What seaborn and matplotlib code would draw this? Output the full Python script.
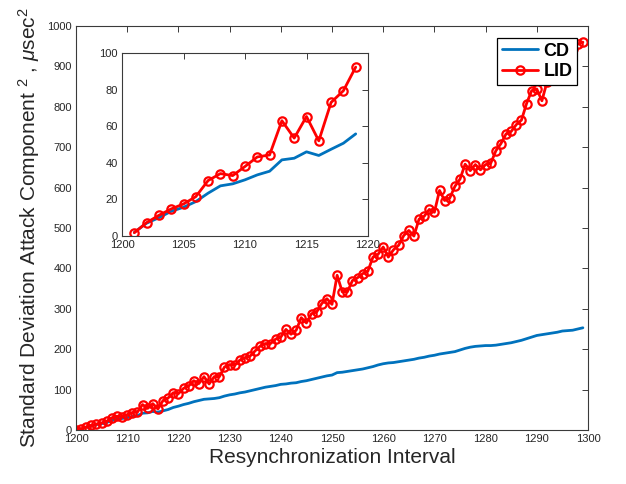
import numpy as np
import pandas as pd
import matplotlib
matplotlib.use("Agg")
import matplotlib.pyplot as plt
import seaborn as sns

# ---------------- data ----------------
interval = list(range(1200, 1300))

cd = [1, 2, 7, 10, 13.5, 15.7, 18.8, 23.4, 27.4, 28.5,
      30.7, 33.4, 35.4, 41.6, 42.5, 46, 44, 47.4, 50.7, 55.8,
      59, 63, 66, 70, 73, 76, 77, 78, 80, 84,
      87, 89, 92, 94, 97, 100, 103, 106, 108, 110,
      113, 114, 116, 117, 120, 122, 125, 128, 131, 134,
      136, 142, 143, 145, 147, 149, 151, 154, 157, 161,
      164, 166, 167, 169, 171, 173, 175, 178, 180, 183,
      185, 188, 190, 192, 194, 198, 202, 205, 207, 208,
      209, 209, 210, 212, 214, 216, 219, 222, 226, 230,
      234, 236, 238, 240, 242, 245, 246, 247, 250, 253]

lid = [1, 1.8, 7.3, 11.3, 14.8, 17.5, 21.5, 30.3, 34.1, 33.0,
       38.0, 43.2, 44.3, 63.0, 53.5, 65.3, 52.0, 73.0, 79.4, 92.3,
       90, 103, 109, 122, 115, 132, 114, 132, 132, 156,
       162, 160, 173, 179, 183, 196, 208, 214, 214, 225,
       230, 249, 237, 247, 278, 265, 288, 292, 313, 325,
       311, 383, 342, 342, 370, 377, 387, 393, 428, 435,
       453, 428, 446, 457, 481, 494, 480, 522, 529, 546,
       539, 593, 568, 574, 603, 621, 658, 642, 657, 644,
       657, 660, 691, 709, 733, 739, 756, 767, 808, 840,
       844, 815, 862, 880, 897, 912, 928, 944, 955, 960]

inset_start, inset_end = 1201, 1219

x_ticks_main = list(range(1200, 1301, 10))
y_ticks_main = list(range(0, 1001, 100))
x_ticks_inset = list(range(1200, 1221, 5))
y_ticks_inset = list(range(0, 101, 20))

series_names = ["CD", "LID"]
df = pd.DataFrame({"interval": interval, "CD": cd, "LID": lid})

# ---------------- style ----------------
sns.set_style("white")
plt.rcParams["font.family"] = ["Liberation Sans", "DejaVu Sans"]
plt.rcParams["mathtext.fontset"] = "custom"
plt.rcParams["mathtext.rm"] = "Liberation Sans"
plt.rcParams["mathtext.it"] = "Liberation Sans:italic"

TXT = "#262626"
SPINE = "#3a3a3a"
BLUE = "#0072BD"
RED = "#FF0000"

fig = plt.figure(figsize=(6.26, 4.84), dpi=100)
W, H = 626, 484

def px_axes(l, t, r, b):
    return fig.add_axes([l / W, 1 - b / H, (r - l) / W, (b - t) / H])

ax = px_axes(76, 26, 588, 430)

sns.lineplot(data=df, x="interval", y="CD", ax=ax, color=BLUE, lw=2,
             label="CD")
sns.lineplot(data=df, x="interval", y="LID", ax=ax, color=RED, lw=2,
             marker="o", markersize=6, markerfacecolor="none",
             markeredgecolor=RED, markeredgewidth=1.6, label="LID")

def style_axes(a, xt, yt, xl, yl):
    a.set_xlim(*xl)
    a.set_ylim(*yl)
    a.set_xticks(xt)
    a.set_yticks(yt)
    a.tick_params(direction="in", length=4, width=0.7, top=True, right=True,
                  colors=SPINE, labelcolor=TXT, labelsize=8, pad=3)
    for s in a.spines.values():
        s.set_visible(True)
        s.set_color(SPINE)
        s.set_linewidth(0.8)

style_axes(ax, x_ticks_main, y_ticks_main, (1200, 1300), (0, 1000))
ax.set_xlabel("Resynchronization Interval", fontsize=15, color=TXT, labelpad=3)
ax.set_ylabel(r"Standard Deviation Attack Component $^2$ , $\mu$sec$^2$",
              fontsize=15, color=TXT, labelpad=4)

leg = ax.legend(loc="upper right", bbox_to_anchor=(577 / W, 1 - 38 / H),
                bbox_transform=fig.transFigure, frameon=True, fancybox=False,
                edgecolor="black", prop={"weight": "bold", "size": 13},
                handlelength=2.0, handletextpad=0.3, borderpad=0.25,
                labelspacing=0.2, borderaxespad=0)
leg.get_frame().set_linewidth(0.9)
leg.get_frame().set_facecolor("white")
leg.get_frame().set_alpha(1)
for t in leg.get_texts():
    t.set_color("black")

# ---------------- inset ----------------
axi = px_axes(122, 53, 368, 236)
sub = df[(df["interval"] >= inset_start) & (df["interval"] <= inset_end)]
sns.lineplot(data=sub, x="interval", y="CD", ax=axi, color=BLUE, lw=2,
             legend=False)
sns.lineplot(data=sub, x="interval", y="LID", ax=axi, color=RED, lw=2,
             marker="o", markersize=6, markerfacecolor="none",
             markeredgecolor=RED, markeredgewidth=1.6, legend=False)
style_axes(axi, x_ticks_inset, y_ticks_inset, (1200, 1220), (0, 100))
axi.set_xlabel("")
axi.set_ylabel("")
axi.set_facecolor("white")

fig.savefig("out.png", dpi=100)
